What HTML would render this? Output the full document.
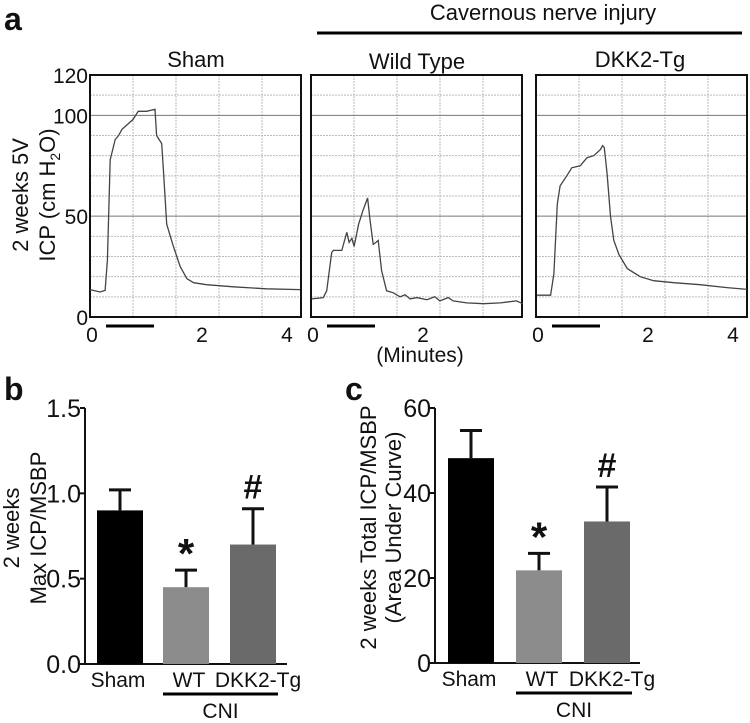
<!DOCTYPE html>
<html><head><meta charset="utf-8"><style>
body{margin:0;background:#fff;font-family:"Liberation Sans",Arial,sans-serif;}
svg text{font-family:"Liberation Sans",Arial,sans-serif;fill:#111;}
</style></head><body>
<svg id="fig" width="750" height="718" viewBox="0 0 750 718" xmlns="http://www.w3.org/2000/svg">
<text x="4" y="30" font-size="32" font-weight="bold">a</text>
<text x="543" y="20" font-size="22" text-anchor="middle">Cavernous nerve injury</text>
<line x1="317" y1="33" x2="742" y2="33" stroke="#000" stroke-width="3"/>
<text x="196" y="67" font-size="22" text-anchor="middle">Sham</text>
<text x="417" y="69" font-size="22" text-anchor="middle">Wild Type</text>
<text x="640" y="67" font-size="22" text-anchor="middle">DKK2-Tg</text>
<text transform="translate(28,195) rotate(-90)" font-size="22" text-anchor="middle">2 weeks 5V</text>
<text transform="translate(55,195) rotate(-90)" font-size="22" text-anchor="middle">ICP (cm H<tspan font-size="14" dy="5">2</tspan><tspan dy="-5">O)</tspan></text>
<text x="420" y="362" font-size="21" text-anchor="middle">(Minutes)</text>
<g id="pa"></g>
<text x="4" y="400" font-size="32" font-weight="bold">b</text>
<text x="345" y="400" font-size="32" font-weight="bold">c</text>
<g id="pb"></g><g id="pc"></g>
</svg>
<script>
// ---- Panel a data (time in minutes, ICP in cm H2O)
const shamT=[0,0.18,0.27,0.31,0.36,0.45,0.51,0.57,0.65,0.77,0.86,1.01,1.16,1.19,1.28,1.31,1.37,1.49,1.61,1.73,1.85,2.08,2.56,3.15,3.75];
const shamV=[13.6,12.4,13.2,28,78,88,90,93,95,98,102,102,103,90,86,73,46,35,25,19,17,16,15,14,13.6];
const wtT=[0.01,0.22,0.28,0.37,0.40,0.55,0.64,0.68,0.73,0.77,0.85,0.93,1.01,1.05,1.11,1.16,1.20,1.26,1.35,1.47,1.59,1.68,1.77,1.89,2.07,2.21,2.30,2.45,2.54,2.78,3.08,3.38,3.67,3.78];
const wtV=[9,9.6,13,32,33,33,42,37,39,35,46,53,59,49,36,37,38,23,13,12,10,11,9,9.6,8.6,10,8,9.6,8,7,6.6,7,8,6.6];
const dkT=[0.02,0.26,0.32,0.38,0.43,0.55,0.64,0.79,0.91,1.03,1.15,1.19,1.22,1.27,1.33,1.39,1.48,1.63,1.86,2.10,2.46,2.93,3.41,3.77];
const dkV=[10.8,10.8,21.5,56,65,70,74,75,79,80,83,85,84,71,50,38,31,24,20,18,17,16,14.6,13.7];
const aYTicks=[0,50,100,120];
const aXTicks=[0,2,4];
// ---- Panel b data
const groups=["Sham","WT","DKK2-Tg"];
const maxMean=[0.90,0.45,0.70];
const maxErr=[0.12,0.10,0.21];
const bTicks=["0.0","0.5","1.0","1.5"];
// ---- Panel c data
const aucMean=[48.2,21.8,33.3];
const aucErr=[6.5,4.0,8.1];
const cTicks=["0","20","40","60"];
const marks=["","*","#"];

const NS="http://www.w3.org/2000/svg";
function mk(p,tag,at){const e=document.createElementNS(NS,tag);for(const k in at)e.setAttribute(k,at[k]);p.appendChild(e);return e;}

const pa=document.getElementById('pa');
const boxes=[{x:90,t:shamT,v:shamV,n:'sham'},{x:311,t:wtT,v:wtV,n:'wt'},{x:536,t:dkT,v:dkV,n:'dkk2'}];
const bTop=75,bBot=317,bW=211;
const ya=v=>bBot-(v/120)*(bBot-bTop);
boxes.forEach((b,bi)=>{
  const xa=t=>b.x+t*56;
  for(let g=1;g<=4;g++){const gx=b.x+g*43;
    const l=mk(pa,'line',{x1:gx,y1:bTop,x2:gx,y2:bBot,stroke:'#bbb','stroke-width':1,'stroke-dasharray':'2,1'});
    
    }
  for(let v=10;v<120;v+=10){
    const solid=(v===50||v===100);
    const l=mk(pa,'line',{x1:b.x,y1:ya(v),x2:b.x+bW,y2:ya(v),stroke:solid?'#777':'#bbb','stroke-width':1,'stroke-dasharray':solid?'none':'2,1'});
    
    }
  const r=mk(pa,'rect',{x:b.x,y:bTop,width:bW,height:bBot-bTop,fill:'none',stroke:'#111','stroke-width':2});
  
  
  const d=b.t.map((t,i)=>(i?'L':'M')+xa(t).toFixed(1)+','+ya(b.v[i]).toFixed(1)).join('');
  const p=mk(pa,'path',{d:d,fill:'none',stroke:'#444','stroke-width':1.3});
  
  
  const s=mk(pa,'line',{x1:b.x+16,y1:326,x2:b.x+64,y2:326,stroke:'#000','stroke-width':3});
  
  
  aXTicks.forEach(t=>{
    if(bi===1&&t===4)return;
    const tx=Math.min(xa(t),b.x+bW-14);
    const e=mk(pa,'text',{x:t===0?b.x+2:tx,y:342,'font-size':21,'text-anchor':'middle'});e.textContent=t;
    
    });
});
aYTicks.forEach(v=>{const e=mk(pa,'text',{x:88,y:ya(v)+8,'font-size':21,'text-anchor':'end'});e.textContent=v;
  
  });

const colors=['#000','#8c8c8c','#6a6a6a'];
function bar(gid,ax,y0,y1,xEnd,max,mean,err,ticks,titles,titleX,bx){
  const g=document.getElementById(gid);
  const ys=v=>y0-(v/max)*(y0-y1);
  const a=mk(g,'path',{d:`M${ax},${y1}V${y0}H${xEnd}`,fill:'none',stroke:'#111','stroke-width':2});
  
  
  ticks.forEach((tl,i)=>{const v=max*i/(ticks.length-1);
    const t=mk(g,'line',{x1:ax-5,y1:ys(v),x2:ax,y2:ys(v),stroke:'#111','stroke-width':2});
    
    
    const e=mk(g,'text',{x:ax-4,y:ys(v)+9,'font-size':25,'text-anchor':'end'});e.textContent=tl;
    
    });
  mean.forEach((m,i)=>{const x=bx[i],w=46,c=x+w/2;
    const top=ys(m+err[i]);
    const el=mk(g,'path',{d:`M${c},${ys(m)}V${top}M${c-11},${top}H${c+11}`,stroke:'#111','stroke-width':3,fill:'none'});
    
    
    const r=mk(g,'rect',{x:x,y:ys(m),width:w,height:y0-ys(m),fill:colors[i]});
    
    
    if(marks[i]){const s=mk(g,'text',{x:c,y:top-(i===1?2:10),'font-size':i===1?42:34,'font-weight':'bold','text-anchor':'middle'});s.textContent=marks[i];
      
      }
    const lx=i===2?c+5:(i===1?c+3:c-2);
    const lb=mk(g,'text',{x:lx,y:y0+23,'font-size':21,'text-anchor':'middle'});lb.textContent=groups[i];
    
    
  });
  const ul=mk(g,'line',{x1:bx[1],y1:y0+30,x2:bx[2]+48,y2:y0+30,stroke:'#000','stroke-width':3});
  
  
  const cn=mk(g,'text',{x:(bx[1]+bx[2]+48)/2,y:y0+54,'font-size':21,'text-anchor':'middle'});cn.textContent='CNI';
  
  
  titles.forEach((t,i)=>{const e=mk(g,'text',{transform:`translate(${titleX[i]},${(y0+y1)/2-8}) rotate(-90)`,'font-size':22,'text-anchor':'middle'});e.textContent=t;
    
    });
}
bar('pb',85,664,408,287,1.5,maxMean,maxErr,bTicks,['2 weeks','Max ICP/MSBP'],[19,46],[97,163,230]);
bar('pc',435,663,408,640,60,aucMean,aucErr,cTicks,['2 weeks Total ICP/MSBP','(Area Under Curve)'],[376,401],[448,516,584]);
</script>
</body></html>
